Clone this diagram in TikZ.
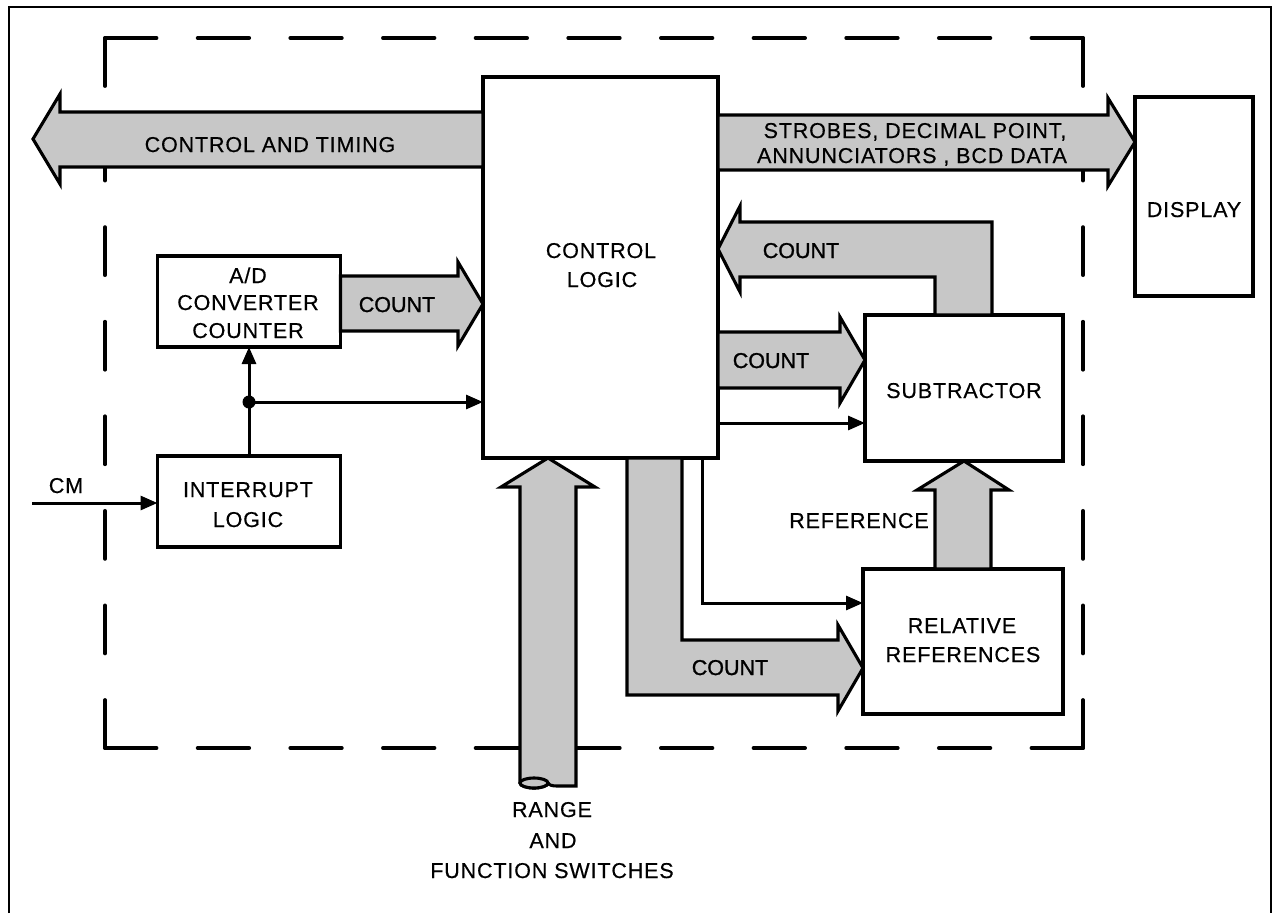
\documentclass[tikz,border=0pt]{standalone}
\usepackage{fontspec}
\setmainfont{Liberation Sans}
\newfontfamily\lblfont[LetterSpace=4,FakeBold=0.5]{Liberation Sans}
\newfontfamily\cntfont[FakeBold=1.2]{Liberation Sans}
\usetikzlibrary{arrows.meta,calc}
\definecolor{shade}{gray}{0.78}
\begin{document}
\begin{tikzpicture}[x=1pt,y=-1pt,
 box/.style={draw,line width=3.1pt,inner sep=0pt,outer sep=0pt},
 fat/.style={draw,fill=shade,line width=3.1pt,line join=miter},
 thinarrow/.style={line width=3pt,-{Triangle[length=17pt,width=14pt]}},
 lbl/.style={font=\lblfont\fontsize{21.5}{26}\selectfont,anchor=base,inner sep=0pt},
 cnt/.style={font=\cntfont\fontsize{21.5}{26}\selectfont,anchor=base,inner sep=0pt},
 dsh/.style={line width=3.8pt,line cap=round},
 ]
\useasboundingbox (0,0) rectangle (1276,913);
\fill[white] (0,0) rectangle (1276,913);
% outer frame
\draw[line width=2.4pt] (9,913) -- (9,7) -- (1271,7) -- (1271,913);
% dashed enclosure
\draw[dsh,dash pattern=on 51.5pt off 41.15pt] (105,38) -- (1083,38);
\draw[dsh,dash pattern=on 51.5pt off 41.15pt] (105,748) -- (1083,748);
\draw[dsh,dash pattern=on 48pt off 46.57pt] (105,38) -- (105,748);
\draw[dsh,dash pattern=on 48pt off 46.57pt] (1083,38) -- (1083,748);
% boxes
\node[box,minimum width=235pt,minimum height=381pt] (ctrl) at (600.5,267.5) {};
\node[box,minimum width=183pt,minimum height=91pt] (ad) at (249,301.5) {};
\node[box,minimum width=183pt,minimum height=91pt] (intr) at (249,501.5) {};
\node[box,minimum width=198pt,minimum height=146pt] (sub) at (964,388) {};
\node[box,minimum width=200pt,minimum height=145pt] (rel) at (963,641.5) {};
\node[box,minimum width=118pt,minimum height=199pt] (disp) at (1194,196.5) {};
% fat arrows
\draw[fat] (ctrl.west |- 0,112) -- (60,112) -- (60,94) -- (33,139) -- (60,184) -- (60,167) -- (ctrl.west |- 0,167) -- cycle;
\draw[fat] (ctrl.east |- 0,115) -- (1108,115) -- (1108,98) -- (disp.west |- 0,142) -- (1108,186) -- (1108,170) -- (ctrl.east |- 0,170) -- cycle;
\draw[fat] (ad.east |- 0,276) -- (458,276) -- (458,262) -- (ctrl.west |- 0,304) -- (458,346) -- (458,331) -- (ad.east |- 0,331) -- cycle;
\draw[fat] (sub.north -| 935,0) -- (935,277) -- (740,277) -- (740,292) -- (ctrl.east |- 0,249) -- (740,206) -- (740,222) -- (992,222) -- (sub.north -| 992,0) -- cycle;
\draw[fat] (ctrl.east |- 0,332) -- (840,332) -- (840,317) -- (sub.west |- 0,360) -- (840,403) -- (840,388) -- (ctrl.east |- 0,388) -- cycle;
\draw[fat] (rel.north -| 935,0) -- (935,490) -- (917,490) -- (sub.south) -- (1009,490) -- (991,490) -- (rel.north -| 991,0) -- cycle;
\draw[fat] (ctrl.south -| 627,0) -- (627,695) -- (838,695) -- (838,711) -- (rel.west |- 0,668) -- (838,625) -- (838,640) -- (682,640) -- (ctrl.south -| 682,0) -- cycle;
\draw[fat] (520,783) -- (520,487) -- (501,487) -- (ctrl.south -| 548,0) -- (595,487) -- (576,487) -- (576,786) -- (557,786) .. controls (552,786) and (549,785) .. (548,783) arc[start angle=0,end angle=-180,x radius=14pt,y radius=5pt] -- cycle;
\draw[fat] (534,783) ellipse [x radius=14pt, y radius=5pt];
% thin connectors
\coordinate (cmstart) at (32,503);
\draw[thinarrow] (cmstart) -- (intr.west |- cmstart);
\draw[thinarrow] (intr.north) -- (ad.south);
\coordinate (j) at (249,402);
\fill (j) circle[radius=6.5pt];
\draw[thinarrow] (j) -- (j -| ctrl.west);
\draw[thinarrow] (ctrl.east |- 0,423) -- (sub.west |- 0,423);
\draw[thinarrow] (ctrl.south -| 702,0) |- (rel.west |- 0,603);
% labels
\node[lbl] (tCT) at (270,152) {CONTROL AND TIMING};
\node[lbl] (tS1) at (915,138) {STROBES, DECIMAL POINT,};
\node[lbl] (tS2) at (912,163) {ANNUNCIATORS , BCD DATA};
\node[lbl] (tC1) at (601,258) {CONTROL};
\node[lbl] (tC2) at (602,287) {LOGIC};
\node[lbl] (tA1) at (248,283) {A/D};
\node[lbl] (tA2) at (248,310) {CONVERTER};
\node[lbl] (tA3) at (248,338) {COUNTER};
\node[cnt] (tAc) at (397,312) {COUNT};
\node[lbl] (tI1) at (248,497) {INTERRUPT};
\node[lbl] (tI2) at (248,527) {LOGIC};
\node[lbl] (tCM) at (66,493) {CM};
\node[cnt] (tBc) at (801,258) {COUNT};
\node[cnt] (tSc) at (771,368) {COUNT};
\node[lbl] (tSub) at (964,398) {SUBTRACTOR};
\node[lbl] (tRef) at (859,528) {REFERENCE};
\node[lbl] (tR1) at (962,633) {RELATIVE};
\node[lbl] (tR2) at (963,662) {REFERENCES};
\node[cnt] (tLc) at (730,675) {COUNT};
\node[lbl] (tG1) at (552,817) {RANGE};
\node[lbl] (tG2) at (553,848) {AND};
\node[lbl] (tG3) at (552,878) {FUNCTION SWITCHES};
\node[lbl] (tD) at (1194,217) {DISPLAY};
\end{tikzpicture}
\end{document}
